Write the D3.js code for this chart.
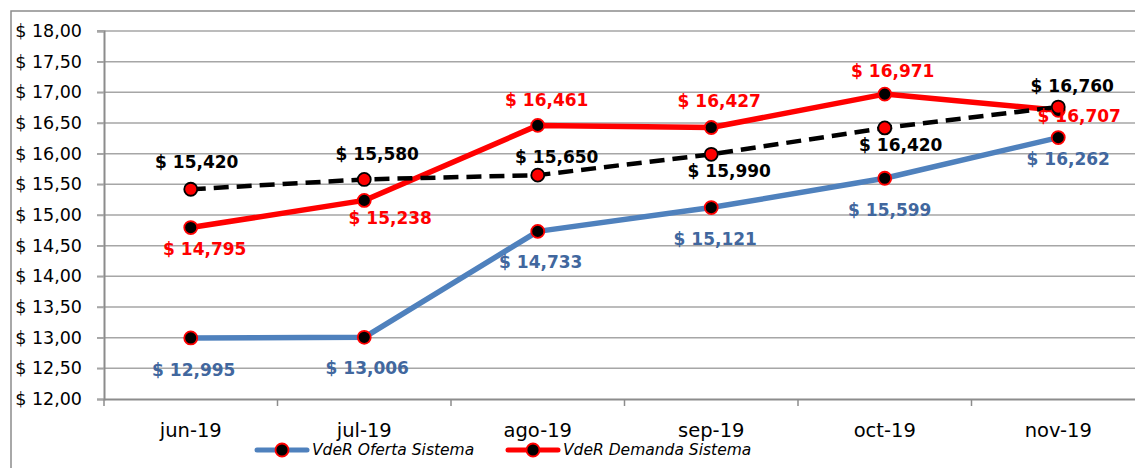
<!DOCTYPE html>
<html>
<head>
<meta charset="utf-8">
<script src="https://cdn.jsdelivr.net/npm/d3@7"></script>
<style>
  html, body { margin: 0; padding: 0; background: #fff; }
  svg { display: block; }
  text { font-family: "DejaVu Sans", sans-serif; }
</style>
</head>
<body>
<svg id="chart" width="1135" height="468"></svg>
<script>
// ---- data ----
const categories = ["jun-19", "jul-19", "ago-19", "sep-19", "oct-19", "nov-19"];
const oferta = [12.995, 13.006, 14.733, 15.121, 15.599, 16.262];
const demanda = [14.795, 15.238, 16.461, 16.427, 16.971, 16.707];
const referencia = [15.420, 15.580, 15.650, 15.990, 16.420, 16.760];
const yTicks = [12, 12.5, 13, 13.5, 14, 14.5, 15, 15.5, 16, 16.5, 17, 17.5, 18];
const seriesNames = ["VdeR Oferta Sistema", "VdeR Demanda Sistema"];

// label offsets (dx, dy) relative to each point
const ofertaLabelOff = [[3,32],[3,31],[3,31],[4,31],[5,32],[10,21]];
const demandaLabelOff = [[14,21],[26,18],[9,-25],[8,-26],[8,-23],[21,6]];
const referenciaLabelOff = [[6,-27],[13,-25],[19,-18],[18,17],[16,17],[14,-21]];

const svg = d3.select("#chart");
const pLeft = 104, pRight = 1145, pTop = 31, pBottom = 399;

const x = d3.scaleBand().domain(categories).range([pLeft, pRight]).paddingInner(0).paddingOuter(0);
const y = d3.scaleLinear().domain([12, 18]).range([pBottom, pTop]);
const cx = d => x(d) + x.bandwidth() / 2;

// outer border
svg.append("rect").attr("x", 11).attr("y", 11).attr("width", 1140).attr("height", 470)
  .attr("fill", "none").attr("stroke", "#8c8c8c").attr("stroke-width", 1.5);

// gridlines
svg.append("g").selectAll("line").data(yTicks.slice(1)).join("line")
  .attr("x1", 97).attr("x2", pRight)
  .attr("y1", d => y(d)).attr("y2", d => y(d))
  .attr("stroke", "#a6a6a6").attr("stroke-width", 1.5);

// y axis
const yAxis = svg.append("g").attr("transform", `translate(${pLeft},0)`)
  .call(d3.axisLeft(y).tickValues(yTicks).tickSize(7).tickPadding(15)
    .tickFormat(d => "$ " + d3.format(".2f")(d).replace(".", ",")));
yAxis.select(".domain").attr("stroke", "#8c8c8c").attr("stroke-width", 2);
yAxis.selectAll(".tick line").attr("stroke", "#a6a6a6").attr("stroke-width", 1.5);
yAxis.selectAll("text").attr("font-size", 17.5).attr("fill", "#000")
  .style("font-family", "DejaVu Sans");

// x axis
const xAxis = svg.append("g").attr("transform", `translate(0,${pBottom})`)
  .call(d3.axisBottom(x).tickSize(0).tickPadding(24));
xAxis.select(".domain").attr("stroke", "#8c8c8c").attr("stroke-width", 2);
xAxis.selectAll("text").attr("font-size", 19.5).attr("fill", "#000")
  .style("font-family", "DejaVu Sans");
// boundary ticks
const bounds = categories.map(c => x(c));
svg.append("g").selectAll("line").data(bounds).join("line")
  .attr("x1", d => d).attr("x2", d => d).attr("y1", pBottom).attr("y2", pBottom + 7)
  .attr("stroke", "#8c8c8c").attr("stroke-width", 1.5);

const line = d3.line().x((d, i) => cx(categories[i])).y(d => y(d));

function drawSeries(vals, color, width, dash) {
  svg.append("path").datum(vals).attr("d", line)
    .attr("fill", "none").attr("stroke", color).attr("stroke-width", width)
    .attr("stroke-dasharray", dash || null).attr("stroke-linejoin", "round");
}
function drawMarkers(vals, mFill, mStroke) {
  svg.append("g").selectAll("circle").data(vals).join("circle")
    .attr("cx", (d, i) => cx(categories[i])).attr("cy", d => y(d)).attr("r", 6.5)
    .attr("fill", mFill).attr("stroke", mStroke).attr("stroke-width", 1.8);
}
function drawLabels(vals, offs, color) {
  svg.append("g").selectAll("text").data(vals).join("text")
    .attr("x", (d, i) => cx(categories[i]) + offs[i][0])
    .attr("y", (d, i) => y(d) + offs[i][1])
    .attr("text-anchor", "middle").attr("dominant-baseline", "central")
    .attr("font-size", 17).attr("font-weight", "bold").attr("fill", color)
    .text(d => "$ " + d3.format(".3f")(d).replace(".", ","));
}

drawSeries(oferta, "#4f81bd", 5.5);
drawSeries(demanda, "#ff0000", 5.5);
drawSeries(referencia, "#000000", 4.5, "15,8");
drawMarkers(oferta, "#000", "#ff0000");
drawMarkers(demanda, "#000", "#ff0000");
drawMarkers(referencia, "#ff0000", "#000");
drawLabels(oferta, ofertaLabelOff, "#41679e");
drawLabels(referencia, referenciaLabelOff, "#000");
drawLabels(demanda, demandaLabelOff, "#ff0000");

// legend
const legend = [
  { name: seriesNames[0], color: "#4f81bd", x: 257 },
  { name: seriesNames[1], color: "#ff0000", x: 508 }
];
const lg = svg.append("g");
legend.forEach(l => {
  const ly = 450;
  lg.append("line").attr("x1", l.x).attr("x2", l.x + 50).attr("y1", ly).attr("y2", ly)
    .attr("stroke", l.color).attr("stroke-width", 5).attr("stroke-linecap", "round");
  lg.append("circle").attr("cx", l.x + 25).attr("cy", ly).attr("r", 6.5)
    .attr("fill", "#000").attr("stroke", "#ff0000").attr("stroke-width", 1.8);
  lg.append("text").attr("x", l.x + 55).attr("y", ly).attr("dominant-baseline", "central")
    .attr("font-size", 15.5).attr("font-style", "italic").attr("fill", "#000").text(l.name);
});
</script>
</body>
</html>
